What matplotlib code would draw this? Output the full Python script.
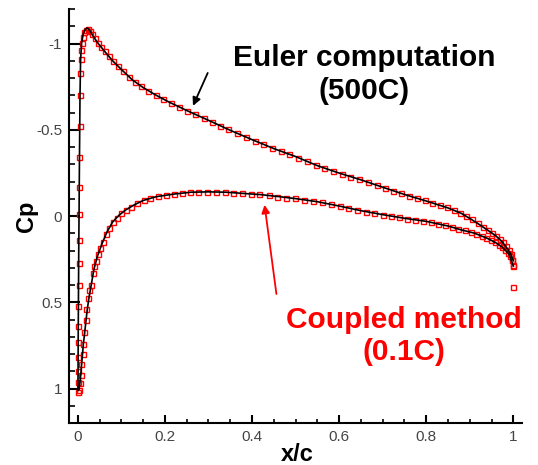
import matplotlib
matplotlib.use("Agg")
import matplotlib.pyplot as plt
from matplotlib.ticker import MultipleLocator

plt.rcParams['font.family'] = ['Liberation Sans', 'DejaVu Sans']
plt.rcParams['axes.unicode_minus'] = False

# Euler computation (500C), upper and lower surfaces
euler_up_x = [0.0005, 0.0008, 0.0012, 0.0017, 0.0023, 0.003, 0.004, 0.0052, 0.0066, 0.009,
              0.013, 0.018, 0.022, 0.028, 0.036, 0.047, 0.06, 0.08, 0.10, 0.125, 0.15, 0.18,
              0.21, 0.25, 0.30, 0.35, 0.40, 0.45, 0.50, 0.55, 0.60, 0.65, 0.70, 0.75, 0.80,
              0.85, 0.88, 0.90, 0.92, 0.94, 0.96, 0.975, 0.988, 0.995, 1.0]
euler_up_cp = [1.01, 0.85, 0.65, 0.45, 0.2, -0.01, -0.34, -0.70, -0.91, -1.005,
               -1.06, -1.085, -1.09, -1.075, -1.04, -1.0, -0.96, -0.90, -0.85, -0.79, -0.745, -0.70,
               -0.66, -0.612, -0.555, -0.497, -0.443, -0.391, -0.345, -0.292, -0.249, -0.21, -0.167, -0.125, -0.087,
               -0.047, -0.016, 0.014, 0.046, 0.08, 0.115, 0.151, 0.195, 0.225, 0.26]
euler_lo_x = [0.0005, 0.003, 0.005, 0.007, 0.009, 0.011, 0.013, 0.016, 0.019, 0.022, 0.026,
              0.031, 0.037, 0.045, 0.055, 0.067, 0.08, 0.095, 0.11, 0.13, 0.15, 0.18, 0.22,
              0.26, 0.30, 0.34, 0.38, 0.42, 0.46, 0.50, 0.55, 0.60, 0.65, 0.70, 0.75, 0.80,
              0.85, 0.88, 0.91, 0.94, 0.96, 0.975, 0.99, 1.0]
euler_lo_cp = [1.01, 1.0, 0.967, 0.92, 0.857, 0.80, 0.74, 0.675, 0.605, 0.54, 0.47,
               0.40, 0.31, 0.235, 0.165, 0.093, 0.035, -0.005, -0.035, -0.065, -0.09, -0.112, -0.127,
               -0.138, -0.14, -0.138, -0.131, -0.124, -0.113, -0.101, -0.083, -0.058, -0.031, -0.008, 0.013, 0.031,
               0.058, 0.08, 0.099, 0.129, 0.155, 0.181, 0.22, 0.29]

# Coupled method (0.1C), surface points
coupled_up_x = [0.0004, 0.0005, 0.0006, 0.0008, 0.0010, 0.0012, 0.0015, 0.0018, 0.0021, 0.0025,
                0.0030, 0.0035, 0.0040, 0.0046, 0.0052, 0.0058, 0.0066, 0.0076, 0.0090,
                0.0115, 0.0145, 0.018, 0.023, 0.028, 0.033, 0.039, 0.046, 0.054, 0.062,
                0.071, 0.081, 0.092, 0.104, 0.117, 0.131, 0.146, 0.162, 0.179, 0.196,
                0.214, 0.232, 0.251, 0.270, 0.289, 0.308, 0.327, 0.346, 0.366, 0.386,
                0.406, 0.426, 0.446, 0.466, 0.486, 0.506, 0.526, 0.546, 0.566, 0.586,
                0.606, 0.626, 0.646, 0.666, 0.686, 0.705, 0.724, 0.743, 0.761, 0.779,
                0.797, 0.814, 0.831, 0.847, 0.863, 0.878, 0.892, 0.906, 0.919, 0.931,
                0.942, 0.952, 0.961, 0.969, 0.976, 0.983, 0.989, 0.994, 0.998, 1.000]
coupled_up_cp = [1.02, 0.965, 0.90, 0.82, 0.73, 0.64, 0.52, 0.40, 0.27, 0.14,
                 -0.01, -0.17, -0.34, -0.52, -0.70, -0.83, -0.91, -0.965, -1.005,
                 -1.04, -1.065, -1.08, -1.085, -1.075, -1.055, -1.03, -1.005, -0.98, -0.955,
                 -0.93, -0.90, -0.868, -0.838, -0.808, -0.779, -0.752, -0.727, -0.702, -0.678,
                 -0.655, -0.633, -0.611, -0.589, -0.567, -0.545, -0.523, -0.502, -0.480, -0.458,
                 -0.437, -0.416, -0.396, -0.376, -0.357, -0.338, -0.318, -0.298, -0.279, -0.261,
                 -0.244, -0.228, -0.212, -0.196, -0.179, -0.163, -0.147, -0.132, -0.117, -0.103,
                 -0.090, -0.077, -0.064, -0.050, -0.035, -0.019, -0.002, 0.020, 0.042, 0.063,
                 0.083, 0.101, 0.118, 0.135, 0.152, 0.172, 0.195, 0.222, 0.255, 0.285]
coupled_lo_x = [0.003, 0.005, 0.007, 0.0085, 0.011, 0.012, 0.015, 0.018, 0.020, 0.023,
                0.027, 0.030, 0.034, 0.038, 0.042, 0.047, 0.052, 0.058, 0.065, 0.072,
                0.080, 0.089, 0.099, 0.110, 0.122, 0.136, 0.151, 0.167, 0.184, 0.202,
                0.220, 0.239, 0.258, 0.277, 0.297, 0.317, 0.337, 0.357, 0.377, 0.397,
                0.417, 0.438, 0.458, 0.479, 0.499, 0.520, 0.540, 0.561, 0.581, 0.601,
                0.621, 0.641, 0.661, 0.681, 0.700, 0.719, 0.738, 0.757, 0.775, 0.793,
                0.810, 0.827, 0.843, 0.859, 0.874, 0.888, 0.902, 0.915, 0.927, 0.938,
                0.949, 0.958, 0.967, 0.975, 0.982, 0.988, 0.993, 0.997, 1.000, 1.000]
coupled_lo_cp = [1.01, 0.967, 0.92, 0.857, 0.80, 0.74, 0.675, 0.605, 0.54, 0.474,
                 0.43, 0.40, 0.33, 0.29, 0.26, 0.22, 0.185, 0.15, 0.105, 0.07,
                 0.035, 0.01, -0.015, -0.035, -0.05, -0.075, -0.093, -0.104, -0.114, -0.121,
                 -0.127, -0.133, -0.138, -0.14, -0.14, -0.14, -0.138, -0.135, -0.131, -0.128,
                 -0.125, -0.119, -0.113, -0.107, -0.102, -0.094, -0.087, -0.079, -0.069, -0.058,
                 -0.046, -0.035, -0.026, -0.017, -0.008, 0.001, 0.008, 0.015, 0.022, 0.029,
                 0.035, 0.044, 0.054, 0.064, 0.074, 0.083, 0.093, 0.104, 0.116, 0.127,
                 0.140, 0.152, 0.166, 0.181, 0.196, 0.213, 0.234, 0.257, 0.29, 0.41]

xticks = [0, 0.2, 0.4, 0.6, 0.8, 1]
xtick_labels = ['0', '0.2', '0.4', '0.6', '0.8', '1']
yticks = [-1, -0.5, 0, 0.5, 1]
ytick_labels = ['-1', '-0.5', '0', '0.5', '1']

fig = plt.figure(figsize=(5.38, 4.65), dpi=100)
ax = fig.add_axes([0.1283, 0.0903, 0.842, 0.8903])

# coupled method as open red squares, euler as black line on top
for cx, cy in [(coupled_up_x, coupled_up_cp), (coupled_lo_x, coupled_lo_cp)]:
    ax.plot(cx, cy, linestyle='none', marker='s', markersize=3.6,
            markerfacecolor='none', markeredgecolor='#ff0000', markeredgewidth=1.0, zorder=2)
for ex, ey in [(euler_up_x, euler_up_cp), (euler_lo_x, euler_lo_cp)]:
    ax.plot(ex, ey, color='black', linewidth=1.2, zorder=3)

ax.set_xlim(-0.02, 1.02)
ax.set_ylim(1.2, -1.2)

ax.spines['top'].set_visible(False)
ax.spines['right'].set_visible(False)
ax.spines['left'].set_linewidth(1.5)
ax.spines['bottom'].set_linewidth(1.5)

ax.set_xticks(xticks)
ax.set_xticklabels(xtick_labels)
ax.set_yticks(yticks)
ax.set_yticklabels(ytick_labels)
ax.xaxis.set_minor_locator(MultipleLocator(0.05))
ax.yaxis.set_minor_locator(MultipleLocator(0.1))
ax.tick_params(axis='x', which='major', direction='in', length=6, width=1.5,
               labelsize=11, labelcolor='#444444', pad=5)
ax.tick_params(axis='x', which='minor', direction='in', length=3, width=1.2)
ax.tick_params(axis='y', which='major', direction='in', length=8, width=1.5,
               labelsize=11, labelcolor='#444444', pad=5)
ax.tick_params(axis='y', which='minor', direction='in', length=4, width=1.2)

ax.set_xlabel('x/c', fontsize=17, fontweight='bold', va='center')
ax.xaxis.set_label_coords(0.503, -0.077)
ax.set_ylabel('Cp', fontsize=17, fontweight='bold', va='center')
ax.yaxis.set_label_coords(-0.093, 0.5)

# annotations
ax.text(0.657, -0.82, 'Euler computation\n(500C)', ha='center', va='center',
        fontsize=21.5, fontweight='bold', color='black', linespacing=1.2)
ax.annotate('', xy=(0.262, -0.624), xytext=(0.301, -0.844),
            arrowprops=dict(arrowstyle='-|>', color='black', lw=1.3, mutation_scale=12))
ax.text(0.749, 0.694, 'Coupled method\n(0.1C)', ha='center', va='center',
        fontsize=21.5, fontweight='bold', color='#ff0000', linespacing=1.2)
ax.annotate('', xy=(0.428, -0.081), xytext=(0.457, 0.468),
            arrowprops=dict(arrowstyle='-|>', color='#ff0000', lw=1.3, mutation_scale=12))

fig.savefig('out.png', dpi=100)
